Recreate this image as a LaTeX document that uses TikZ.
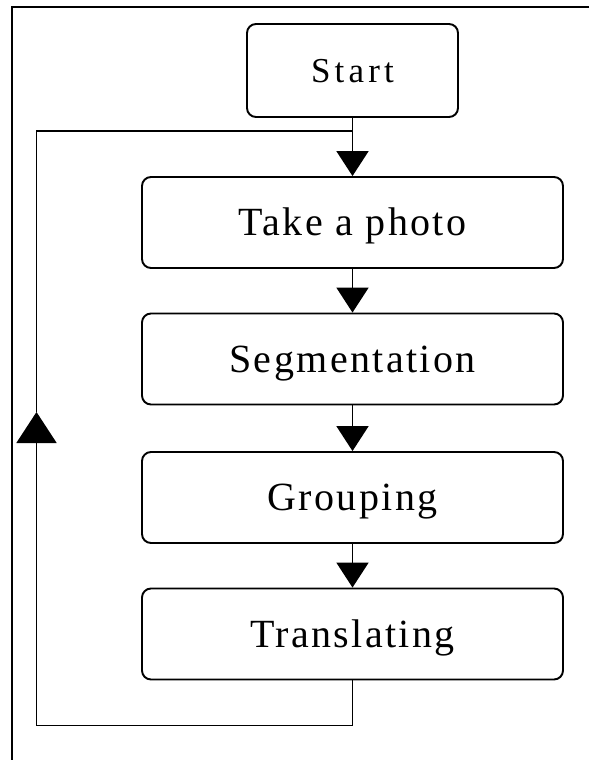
\documentclass[tikz,border=0pt]{standalone}
\usepackage{fontspec}
\setmainfont{Liberation Serif}
\newfontfamily\stepfont[LetterSpace=6]{Liberation Serif}
\newfontfamily\startfont[LetterSpace=12]{Liberation Serif}
\usetikzlibrary{arrows.meta, positioning}

\begin{document}
\begin{tikzpicture}[x=1pt, y=-1pt,
  stepbox/.style={draw, line width=1.9pt, rounded corners=9pt, minimum width=421pt, minimum height=91pt,
    inner sep=0pt, text height=30pt, text depth=3.5pt, font=\stepfont\fontsize{40}{44}\selectfont},
  flow/.style={line width=1.9pt, -{Triangle[width=32pt, length=25pt]}}]
  \useasboundingbox (0,0) rectangle (589,760);
  % Frame
  \draw[line width=1.9pt] (589,7) -- (12,7) -- (12,760);

  % Steps
  \node[stepbox, minimum width=211pt, minimum height=93pt, text height=26pt, text depth=3pt,
    font=\startfont\fontsize{35}{39}\selectfont] (start) at (352.5,70.5) {Start};
  \node[stepbox] (photo) at (352.5,222.5) {Take a photo};
  \node[stepbox] (seg) at (352.5,359) {Segmentation};
  \node[stepbox] (group) at (352.5,497.5) {Grouping};
  \node[stepbox] (trans) at (352.5,634) {Translating};

  % Flow
  \draw[flow] (start) -- (photo);
  \draw[flow] (photo) -- (seg);
  \draw[flow] (seg) -- (group);
  \draw[flow] (group) -- (trans);

  % Loop back
  \coordinate (loopup) at (36.5,412);
  \coordinate (join) at (352.5,131);
  \draw[flow, -{Triangle[width=40pt, length=31pt]}] (trans.south) -- ++(0,45) -| (loopup);
  \draw[line width=1.9pt] (loopup) |- (join);
\end{tikzpicture}
\end{document}
